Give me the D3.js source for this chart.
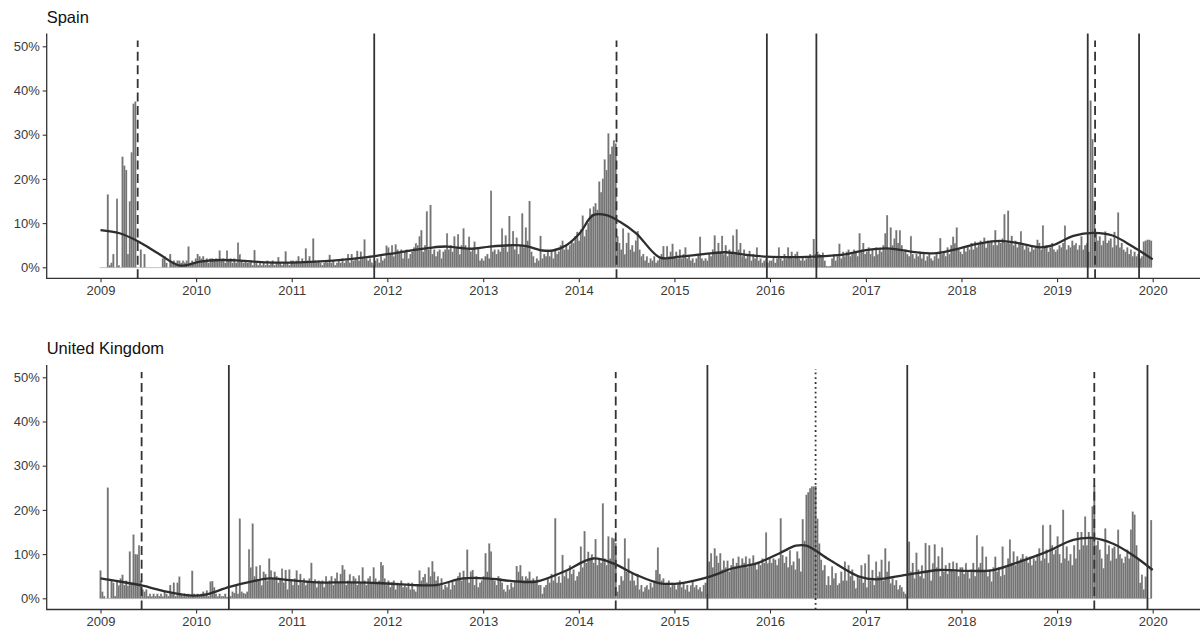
<!DOCTYPE html>
<html><head><meta charset="utf-8">
<script src="https://cdn.jsdelivr.net/npm/d3@7"></script>
<style>
body{margin:0;background:#fff}
text{font-family:"Liberation Sans",Arial,sans-serif}
</style>
</head><body>
<svg id="chart" width="1204" height="630"></svg>
<script>
// ---------------- DATA (weekly share, %, weeks starting 2009-01-01) ----------------
const es2009=[0,0,0,0,16.5,0.5,1,3,0,15.5,0.5,0,25,23,22,3,15,26,37,37.5,0,0,4,0,3,0,0,0,0,0,0,0,0,0,2,2.5,1,0,3,1,1.5,1,1.5,1.5,1,1.5,1,1.5,4.7,1,1.5,1,2];
const es2010=[3,2.5,2,2.5,1.5,2,1,2,2,1.5,2,1.5,3.8,1.5,2,1,3.8,1.5,2,1,2,1,5.6,3,1.5,1,1.5,1,1,1.5,0.5,3.9,1,0.5,1,0.5,1,0.5,1.5,0.5,1,1.5,0.5,1,2.3,1,0.5,1,3.6,1,0.5,1.5];
const es2011=[1.5,1,1.5,2.5,1,2,1,4.3,1.5,2.5,1,6.5,1.5,1,1.5,1,0.5,1,1.5,1,2.8,1,1.5,0.5,1,1.5,1,2,1,1.5,3,1,3,1.5,2,3.7,1.5,3.5,2,6.3,2,1.5,2,1,0.5,1.5,2,1,2.5,1.5,2,4.9];
const es2012=[4.5,3,5,2.5,5.2,4,3.5,4,2,3.5,4,2,3,3.5,4.5,5.5,5,7,8.4,3.5,5,12.7,4,14.1,3,4,2.5,3.5,4,2,3.5,4,7.7,4,5,3.5,7,4.5,7.5,3,5,8.8,5,4,6.9,3.5,4,5.8,3,4.5,1.5,2];
const es2013=[1.5,2.5,3,2,17.3,3.5,4,3,4,3.5,8.8,4.5,7.2,3.5,11.6,5,8.2,4,6.7,3,5,12.2,4.5,9,6,15,3.5,2.5,1,2,1.5,7.1,2,3,2.5,4,2.5,3.5,2,4,3,3.5,5,6,4,5,4,5,6,5.5,7,8];
const es2014=[6,8.5,11.7,7,8.5,10,13.3,12,13.7,14.5,13,19.4,17,20,24.4,22,30.3,25.6,27.3,28.8,28,7,5.5,4,8.8,3,5.5,7.8,4,5,3.5,6,8.2,4,2.5,3,1.5,2.5,1,2,1.5,2.5,1,1.5,2,3,4.8,2,4.8,2.5,3.5,5.3];
const es2015=[2.5,3.5,2,4,2,3,4.5,2,2.5,1.5,2,1,2,3,6.9,2,1.5,2,1.5,3,2.5,4,7.2,3,5.5,3.5,7.1,3,5,2.5,4,3,7.2,3,8.6,4,5.5,2.5,4,2,3,3.7,1.5,3,2,4.5,1.5,2,1,1.5,2,1,1.5];
const es2016=[1.5,2.5,1,2,4.5,2,1.5,3,2,4.5,2.5,3.5,2,3,3.5,2,1.5,2.5,1.5,2,2.5,3,2,6.4,3,3.5,3,2.5,3.3,1.5,0.3,0.2,0.3,2,3,1.5,2.5,5.3,2,3.5,2.5,3.5,4,2.5,3,4,3.5,2.5,7.7,4,5.5,3];
const es2017=[3.5,4.5,3,4,2.5,4.5,3,4,3.5,5,7.7,11.8,4,9,5,6.5,8.4,5.5,8.4,5,3.5,4,3,2.5,7.1,3,2,3,2.5,3.5,2,3,1.5,2.5,3,2,1.5,2.5,3,2,6.6,3,3.5,2.5,4.5,3,5,6.9,5.5,9,4,3.5];
const es2018=[3,4.5,3.5,5,4,5.5,4,5.8,4.5,5.5,6,5.5,6.7,4.4,6,5.5,6,5,8.4,5,6,5.5,6.5,12,5.5,12.8,5.5,7.1,5,6,4.5,5.5,8.2,5,4,5,4.5,3.5,5,4,4.5,6.2,5.5,4,9.5,4.5,5,3.5,4.5,5.5,4,3.5];
const es2019=[4,5,4.5,5.5,9.4,4,5,4.5,6,5,5.5,4,5,7,4,5,5.5,3.5,37.7,29,15,8,6,7,5,6,8.1,5.5,6,6.5,4.5,8,5,12.4,4.5,5.5,4,3.5,4.5,3,4,2.5,3.5,2.5,3,2,2.5,5.8,6,6.2,6.2,6];

const uk2009=[6.3,1.5,0.5,0,25,0,4,3.5,0.5,4,3,4.5,5.3,3,4,2.8,10.6,3.5,14.4,10,9.9,12,4,2,1.5,2,0.5,1,0.5,1,0.5,1,0.5,1,0.5,1.5,1,0.5,3,1,3.5,0.5,3.5,4.9,1,0.5,1,0.5,1,0.5,6.2,1,0.5];
const uk2010=[1,0.5,1,1.5,1,1.8,0.5,3.8,3.9,2.5,1,0.5,1,0.5,0.5,1,0.3,0,0.5,1.5,1.2,2.8,1,18,1.5,1.2,1,1.5,11.1,7,16.9,5,7.2,4,7.5,3,6,5.5,4,9,6.3,4.5,6,5,3.5,4.5,6.7,3.5,6.4,2,6.5,4];
const uk2011=[3,4.5,6.3,3,5.5,3.5,4.5,3,4,4.5,8,3.5,4.3,2.5,4,3.5,4,2.5,5,3.5,4,5,3,4.5,5.8,3.5,5.5,7.5,6.5,3,4,5.5,3.5,5,4.5,3,5.2,3.5,7,4,3,4.5,5,3.5,7,4.5,3.5,4,8.2,7.5,4.5,3];
const uk2012=[4,2.5,3.5,4,2,3.5,3,4,2.5,3,2.5,3.5,2,3.5,2,1.5,3,6.3,4,4.8,5.5,3.5,7,5,8.4,6,4,5,3,4.5,2,3,2.5,3.5,2,4,3,4,5,5.8,4,6.2,4.5,11,3.5,6,6.4,3,5,2.5,3.5,4];
const uk2013=[5,10.2,6,12.4,10.6,4.5,4,3,5,4.5,3.5,2,1.5,3,2,3.5,2.5,4,7.3,6,7.5,5,4,5,4.5,6,4,4.5,3.5,5,3,3,1,2.5,3,4.5,3.5,5.5,4,18.1,3.5,5,3.5,9.8,5,6,4.5,7.5,5.5,6.5,4,5];
const uk2014=[6,11.7,7,15.2,8,10.5,9,10,8,13.4,7.5,9,8,21.5,9,7.5,14,9,13.7,13.5,12.5,1.5,3,5,4,13.6,6,9,4,5.5,4,3,5.5,2,3,1.5,2.5,3,2,3.5,2.5,4,6.4,11.5,5.5,4,4.5,3,3.5,4,2.5,3.5];
const uk2015=[3,2,3.5,4,2.5,3.5,2,3,1.5,3,4,2.5,3,2,2.5,1.5,3,3.5,1,8.3,10.2,7,11.3,9.6,8,10.2,6.5,8.5,7,8.5,6,7.5,9,7.2,8,9.4,7,9,8,9.5,7,9,7.5,9.7,8,6.5,8,7.5,9,8,14.9,8,9];
const uk2016=[8,9,8.7,7.5,9,18.1,9.8,8,9.4,7,10.9,7.5,8.3,6.5,10.6,9,6,17.9,13,23.4,24,24.9,25.3,25.3,25.4,18,12.4,8.7,6.4,7.5,3,5,3,7.2,4.5,5.7,3,3.4,6,4,8.3,4,7.5,5,6.5,4,2.3,5,4.5,7.5,3.5,7.9];
const uk2017=[2.5,9.9,4,6.4,3,8.3,5,6,8.7,4,11.3,6,8.4,3.4,4.5,3,4.1,2,3,2.5,1.5,1,0.5,12.8,6,8,4.5,10.3,6.5,5,7.5,4.5,12.5,6,12,4,8,12.2,7,9.5,5,11.5,6,7.5,5.5,8,6.5,8.3,6,8,5,7];
const uk2018=[7,5.5,8,6,4.5,6.5,8,5,14.3,7,8,11.7,6,9.4,5,6.5,3.8,7,9.4,6,7,5,11.7,5.3,7,9,13.3,8,10.6,7.5,9.5,8,9,10,8.5,9.5,8,9.4,7.5,9,8.5,10,11.3,8.5,16.6,9,11,8,16.6,12,10,11];
const uk2019=[14,10,8,20,9,11.7,8.5,10,7.5,12,9,15,11,15,12,18.5,12,15,14,20.8,25.5,12,13,11,9,6.8,15.8,10,12,8.5,11.3,11.7,9,15.5,10,9,8,9.4,11,9,15.5,19.6,18.9,12,8.7,3.5,5.3,2,4.9,0,0,17.7];

// smoothed trend (decimal year, %)
const esSmoothT=[2009.0,2009.2,2009.4,2009.6,2009.83,2010.04,2010.25,2010.46,2010.74,2011.08,2011.43,2011.79,2012.13,2012.44,2012.62,2012.86,2013.07,2013.31,2013.45,2013.62,2013.73,2013.87,2014.01,2014.15,2014.29,2014.43,2014.6,2014.85,2015.06,2015.4,2015.54,2015.75,2015.96,2016.31,2016.45,2016.8,2017.0,2017.22,2017.49,2017.74,2017.98,2018.19,2018.4,2018.61,2018.82,2018.96,2019.17,2019.38,2019.58,2019.79,2020.0];
const esSmoothV=[8.4,7.7,5.8,3.2,0.4,1.3,1.65,1.5,1.1,1.1,1.5,2.3,3.4,4.4,4.7,4.2,4.7,5.0,4.8,3.8,3.8,5.0,7.7,11.8,11.8,10.3,7.7,2.2,2.4,3.2,3.4,2.8,2.4,2.3,2.4,3.0,3.9,4.3,3.5,3.2,4.3,5.4,6.0,5.4,4.5,5.0,7.1,7.8,7.2,4.7,1.8];
const ukSmoothT=[2009.0,2009.2,2009.43,2009.69,2009.97,2010.11,2010.35,2010.6,2010.77,2010.98,2011.26,2011.61,2011.95,2012.27,2012.51,2012.79,2013.04,2013.31,2013.56,2013.84,2014.15,2014.36,2014.6,2014.85,2015.06,2015.37,2015.61,2015.86,2016.1,2016.27,2016.38,2016.62,2016.93,2017.11,2017.42,2017.77,2018.05,2018.33,2018.61,2018.89,2019.17,2019.38,2019.58,2019.79,2020.0];
const ukSmoothV=[4.5,3.8,2.9,1.5,0.6,0.9,2.6,3.9,4.5,4.1,3.6,3.6,3.4,3.0,3.0,4.5,4.5,3.9,3.8,6.0,9.0,7.9,5.3,3.4,3.4,4.9,6.8,7.9,10.2,11.9,11.9,8.7,4.9,4.3,5.3,6.4,6.2,6.4,8.3,10.5,13.2,13.6,12.4,9.8,6.4];

// election markers
const esEventDates=["2009-05-23","2011-11-12","2014-05-25","2015-12-20","2016-06-26","2019-04-28","2019-05-26","2019-11-10"];
const esEventTypes=["dashed","solid","dashed","solid","solid","solid","dashed","solid"];
const ukEventDates=["2009-06-07","2010-05-06","2014-05-22","2015-05-07","2016-06-23","2017-06-08","2019-05-23","2019-12-12"];
const ukEventTypes=["dashed","solid","dashed","solid","dotted","solid","dashed","solid"];

const yTickValues=[0,10,20,30,40,50];
const xTickYears=[2009,2010,2011,2012,2013,2014,2015,2016,2017,2018,2019,2020];

// ---------------- DRAWING ----------------
const svg=d3.select("#chart");
const weekMs=7*864e5, t0=Date.UTC(2009,0,1);
const x=d3.scaleUtc().domain([new Date(Date.UTC(2009,0,1)),new Date(Date.UTC(2020,0,1))]).range([100.5,1152.7]);
const axisLeftX=46.7, axisRightX=1200;
const parse=d3.utcParse("%Y-%m-%d");
function decYear(t){const y=Math.floor(t);const a=Date.UTC(y,0,1),b=Date.UTC(y+1,0,1);return new Date(a+(t-y)*(b-a));}
function weekly(arrs){return [].concat(...arrs).map((v,i)=>({date:new Date(t0+i*weekMs),v}));}

function panel(cfg){
  const g=svg.append("g");
  const y=d3.scaleLinear().domain([0,50]).range([cfg.zeroY,cfg.fiftyY]);
  const data=weekly(cfg.values);
  const bw=x(new Date(t0+weekMs))-x(new Date(t0));

  // baseline of zero-height bars
  g.append("line")
    .attr("x1",x(data[0].date)-bw/2).attr("x2",x(data[data.length-1].date)+bw/2)
    .attr("y1",y(0)+0.3).attr("y2",y(0)+0.3).attr("stroke","#c4c4c4").attr("stroke-width",1);

  g.append("g").selectAll("rect").data(data.filter(d=>d.v>0)).join("rect")
    .attr("x",d=>x(d.date)-bw/2).attr("width",bw)
    .attr("y",d=>y(d.v)).attr("height",d=>y(0)-y(d.v))
    .attr("fill","#747474").attr("stroke","#b8b8b8").attr("stroke-width",0.18);

  const sm=cfg.smoothT.map((t,i)=>({date:decYear(t),v:cfg.smoothV[i]}));
  g.append("path").datum(sm)
    .attr("d",d3.line().x(d=>x(d.date)).y(d=>y(d.v)).curve(d3.curveCatmullRom.alpha(0.5)))
    .attr("fill","none").attr("stroke","#2e2e2e").attr("stroke-width",2.3);

  // event lines
  cfg.eventDates.forEach((ds,i)=>{
    const type=cfg.eventTypes[i];
    const xx=x(parse(ds));
    const l=g.append("line").attr("x1",xx).attr("x2",xx)
      .attr("y1",cfg.axisY).attr("y2",cfg.top)
      .attr("stroke","#333").attr("stroke-width",1.8);
    if(type==="dashed") l.attr("stroke-dasharray","9,4.6").attr("y2",cfg.top+7);
    if(type==="dotted") l.attr("stroke-dasharray","1.8,3").attr("y2",cfg.top+4);
  });

  // y axis
  const ya=g.append("g").attr("transform",`translate(${axisLeftX},0)`)
    .call(d3.axisLeft(y).tickValues(yTickValues).tickFormat(d=>d+"%").tickSize(4).tickPadding(3));
  ya.select(".domain").remove();
  ya.selectAll(".tick line").attr("stroke","#333").attr("stroke-width",1.1);
  ya.selectAll(".tick text").attr("fill","#3a3a3a").style("font-size","13px").style("font-family","Liberation Sans, Arial, sans-serif");
  g.append("line").attr("x1",axisLeftX).attr("x2",axisLeftX).attr("y1",cfg.top).attr("y2",cfg.axisY)
    .attr("stroke","#333").attr("stroke-width",1.3);

  // x axis
  const xa=g.append("g").attr("transform",`translate(0,${cfg.axisY})`)
    .call(d3.axisBottom(x).tickValues(xTickYears.map(yr=>new Date(Date.UTC(yr,0,1)))).tickFormat(d3.utcFormat("%Y")).tickSize(4).tickPadding(3));
  xa.select(".domain").remove();
  xa.selectAll(".tick line").attr("stroke","#333").attr("stroke-width",1.1);
  xa.selectAll(".tick text").attr("fill","#3a3a3a").style("font-size","13px").style("font-family","Liberation Sans, Arial, sans-serif");
  g.append("line").attr("x1",axisLeftX-0.6).attr("x2",axisRightX).attr("y1",cfg.axisY).attr("y2",cfg.axisY)
    .attr("stroke","#333").attr("stroke-width",1.3);

  g.append("text").attr("x",axisLeftX).attr("y",cfg.titleY).text(cfg.title)
    .attr("fill","#111").style("font-size","16.5px");
}

panel({title:"Spain",values:[es2009,es2010,es2011,es2012,es2013,es2014,es2015,es2016,es2017,es2018,es2019],
  smoothT:esSmoothT,smoothV:esSmoothV,eventDates:esEventDates,eventTypes:esEventTypes,
  zeroY:267.3,fiftyY:46.3,axisY:278.3,top:33.5,titleY:23});
panel({title:"United Kingdom",values:[uk2009,uk2010,uk2011,uk2012,uk2013,uk2014,uk2015,uk2016,uk2017,uk2018,uk2019],
  smoothT:ukSmoothT,smoothV:ukSmoothV,eventDates:ukEventDates,eventTypes:ukEventTypes,
  zeroY:598.3,fiftyY:377.3,axisY:609.5,top:365,titleY:354});
</script>
</body></html>
